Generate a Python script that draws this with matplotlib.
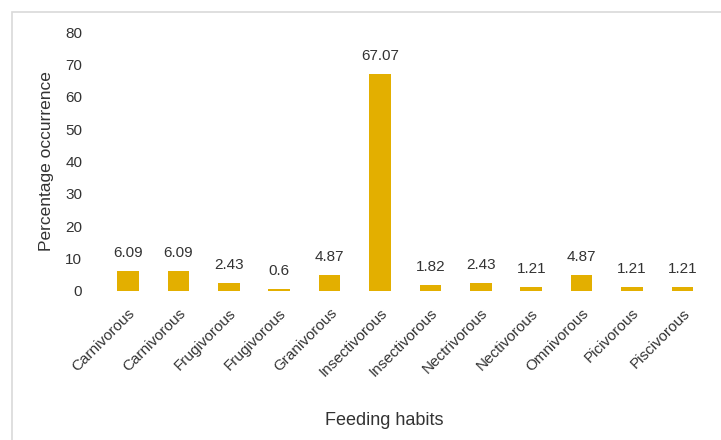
import numpy as np
import matplotlib.pyplot as plt
from matplotlib.patches import Rectangle

# Данные
habits = ['Carnivorous', 'Carnivorous', 'Frugivorous', 'Frugivorous', 'Granivorous',
          'Insectivorous', 'Insectivorous', 'Nectrivorous', 'Nectivorous', 'Omnivorous',
          'Picivorous', 'Piscivorous']
percent = [6.09, 6.09, 2.43, 0.6, 4.87, 67.07, 1.82, 2.43, 1.21, 4.87, 1.21, 1.21]
yticks = [0, 10, 20, 30, 40, 50, 60, 70, 80]

plt.rcParams['font.family'] = ['Liberation Sans', 'DejaVu Sans']

fig = plt.figure(figsize=(7.21, 4.40), dpi=100)
ax = fig.add_axes([0.139, 0.339, 0.839, 0.588])

# рамка вокруг диаграммы
fig.patches.append(Rectangle((0.017, -0.05), 1.2, 1.023, transform=fig.transFigure,
                             fill=False, edgecolor='#d9d9d9', linewidth=1.2))

x = np.arange(len(habits))
bars = ax.bar(x, percent, width=0.43, color='#E3AF00')

for xi, v in zip(x, percent):
    ax.annotate(f'{v:g}', (xi, v), textcoords='offset points', xytext=(0, 8),
                ha='center', va='bottom', fontsize=11, color='#333333')

ax.set_xlim(-0.55, 11.45)
ax.set_ylim(0, 80)
ax.set_yticks(yticks)
ax.set_xticks(x)
ax.set_xticklabels(habits, rotation=45, ha='right', rotation_mode='anchor',
                   fontsize=11, color='#333333')
ax.tick_params(axis='y', labelsize=11, labelcolor='#333333', length=0, pad=13)
ax.tick_params(axis='x', length=0, pad=11)
for s in ax.spines.values():
    s.set_visible(False)

ax.set_ylabel('Percentage occurrence', fontsize=12.5, color='#333333', labelpad=8)
ax.set_xlabel('Feeding habits', fontsize=13, color='#333333')
ax.xaxis.set_label_coords(0.47, -0.47)

fig.savefig('out.png', dpi=100)
